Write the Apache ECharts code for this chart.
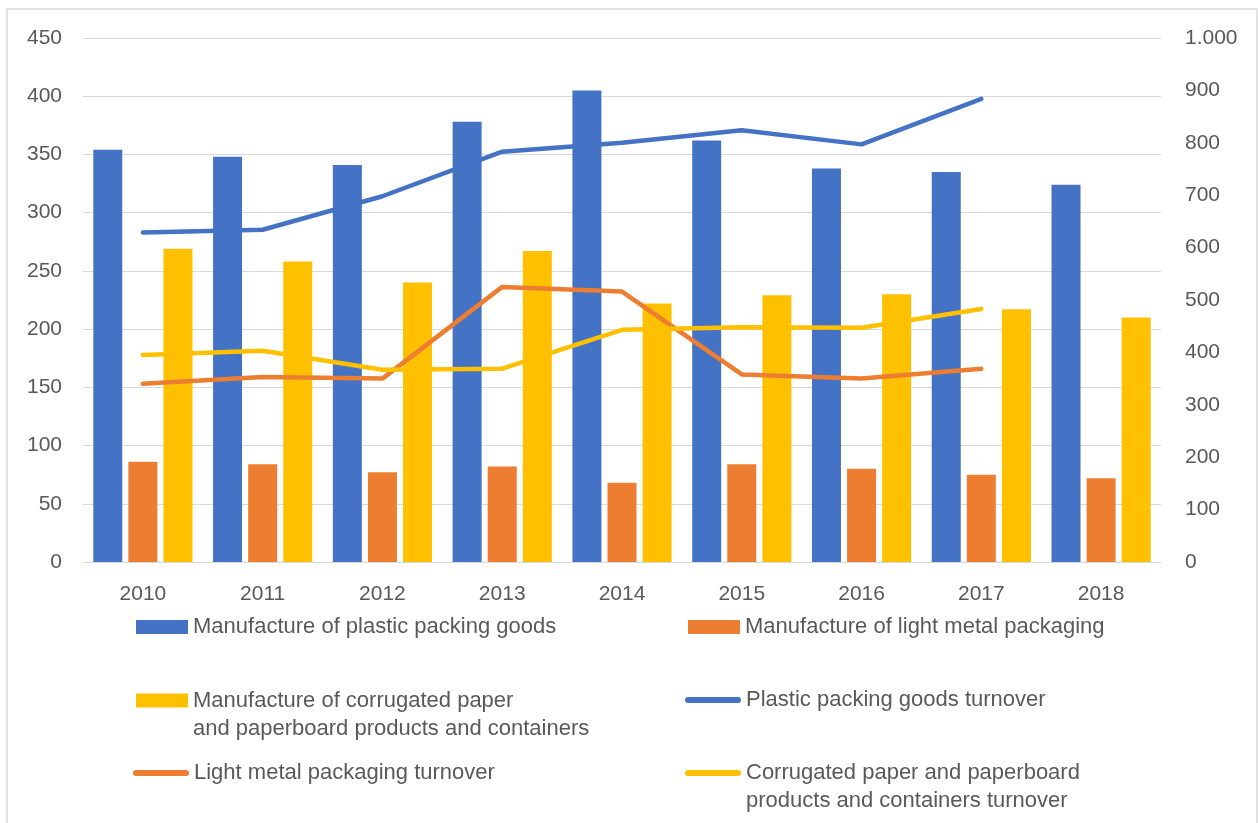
<!DOCTYPE html>
<html>
<head>
<meta charset="utf-8">
<title>Packaging manufacturing and turnover 2010–2018</title>
<script src="https://cdn.jsdelivr.net/npm/echarts@6/dist/echarts.min.js"></script>
<style>
  html, body { margin: 0; padding: 0; background: #ffffff; }
  #chart { width: 1258px; height: 823px; }
</style>
</head>
<body>
<div id="chart"></div>
<script>
// Years on the category axis
const years = ['2010', '2011', '2012', '2013', '2014', '2015', '2016', '2017', '2018'];

// Bars (left axis)
const plasticGoods = [354, 348, 341, 378, 405, 362, 338, 335, 324];
const lightMetal = [86, 84, 77, 82, 68, 84, 80, 75, 72];
const corrugated = [269, 258, 240, 267, 222, 229, 230, 217, 210];

// Turnover lines (right axis), 2010–2017
const plasticTurnover = [629, 634, 698, 783, 800, 824, 797, 884];
const metalTurnover = [340, 353, 350, 525, 516, 358, 350, 369];
const corrugatedTurnover = [395, 403, 367, 369, 443, 448, 447, 483];

// Series names and how they are written in the legend
const names = {
  plasticBar: 'Manufacture of plastic packing goods',
  metalBar: 'Manufacture of light metal packaging',
  corrBar: 'Manufacture of corrugated paper and paperboard products and containers',
  plasticLine: 'Plastic packing goods turnover',
  metalLine: 'Light metal packaging turnover',
  corrLine: 'Corrugated paper and paperboard products and containers turnover'
};
// A leading blank line keeps the first text line level with the legend icon
const legendText = {
  [names.corrBar]: '\nManufacture of corrugated paper\nand paperboard products and containers',
  [names.corrLine]: '\nCorrugated paper and paperboard\nproducts and containers turnover'
};

const BLUE = '#4472C4', ORANGE = '#ED7D31', GOLD = '#FFC000';
const TEXT = '#595959', GRID = '#d9d9d9';
const FONT = '"Liberation Sans", Arial, sans-serif';

// Thousands separator with a dot (1000 -> 1.000)
function dotThousands(v) {
  return String(v).replace(/\B(?=(\d{3})+(?!\d))/g, '.');
}

const lineIcon = 'path://M3,0 H53 A3,3 0 0 1 53,6 H3 A3,3 0 0 1 3,0 Z';

function legendItem(name, left, top, isLine, twoLines) {
  return {
    data: [{ name: name, icon: isLine ? lineIcon : 'rect' }],
    left: left,
    top: top,
    padding: 0,
    selectedMode: false,
    itemWidth: isLine ? 56 : 52,
    itemHeight: isLine ? 6 : 14,
    formatter: function (n) { return legendText[n] || n; },
    textStyle: { color: TEXT, fontSize: 22, fontFamily: FONT, lineHeight: twoLines ? 28 : 26 }
  };
}

const chart = echarts.init(document.getElementById('chart'), null, { renderer: 'canvas' });

chart.setOption({
  animation: false,
  backgroundColor: '#ffffff',
  graphic: [{
    type: 'rect',
    shape: { x: 7, y: 9, width: 1250, height: 840 },
    style: { fill: 'none', stroke: GRID, lineWidth: 1.5 },
    silent: true,
    z: -10
  }],
  grid: { left: 83, right: 97, top: 38, bottom: 261, containLabel: false },
  legend: [
    legendItem(names.plasticBar, 136, 614, false, false),
    legendItem(names.metalBar, 688, 614, false, false),
    legendItem(names.corrBar, 136, 658.5, false, true),
    legendItem(names.plasticLine, 685, 687, true, false),
    legendItem(names.metalLine, 133, 760, true, false),
    legendItem(names.corrLine, 685, 731, true, true)
  ],
  xAxis: {
    type: 'category',
    data: years,
    boundaryGap: true,
    axisTick: { show: false },
    axisLine: { show: true, lineStyle: { color: GRID, width: 1 } },
    axisLabel: { color: TEXT, fontSize: 21, fontFamily: FONT, margin: 22 }
  },
  yAxis: [{
    type: 'value',
    min: 0, max: 450, interval: 50,
    axisLine: { show: false },
    axisTick: { show: false },
    splitLine: { show: true, lineStyle: { color: GRID, width: 1 } },
    axisLabel: { color: TEXT, fontSize: 21, fontFamily: FONT, margin: 21 }
  }, {
    type: 'value',
    min: 0, max: 1000, interval: 100,
    axisLine: { show: false },
    axisTick: { show: false },
    splitLine: { show: false },
    axisLabel: { color: TEXT, fontSize: 21, fontFamily: FONT, margin: 24, formatter: dotThousands }
  }],
  series: [
    { name: names.plasticBar, type: 'bar', data: plasticGoods, barWidth: 29, barGap: '21%',
      itemStyle: { color: BLUE } },
    { name: names.metalBar, type: 'bar', data: lightMetal, barWidth: 29, barGap: '21%',
      itemStyle: { color: ORANGE } },
    { name: names.corrBar, type: 'bar', data: corrugated, barWidth: 29, barGap: '21%',
      itemStyle: { color: GOLD } },
    { name: names.plasticLine, type: 'line', yAxisIndex: 1, data: plasticTurnover,
      showSymbol: false, symbol: 'none',
      lineStyle: { color: BLUE, width: 4.5, cap: 'round', join: 'round' }, itemStyle: { color: BLUE } },
    { name: names.metalLine, type: 'line', yAxisIndex: 1, data: metalTurnover,
      showSymbol: false, symbol: 'none',
      lineStyle: { color: ORANGE, width: 4.5, cap: 'round', join: 'round' }, itemStyle: { color: ORANGE } },
    { name: names.corrLine, type: 'line', yAxisIndex: 1, data: corrugatedTurnover,
      showSymbol: false, symbol: 'none',
      lineStyle: { color: GOLD, width: 4.5, cap: 'round', join: 'round' }, itemStyle: { color: GOLD } }
  ]
});
</script>
</body>
</html>
